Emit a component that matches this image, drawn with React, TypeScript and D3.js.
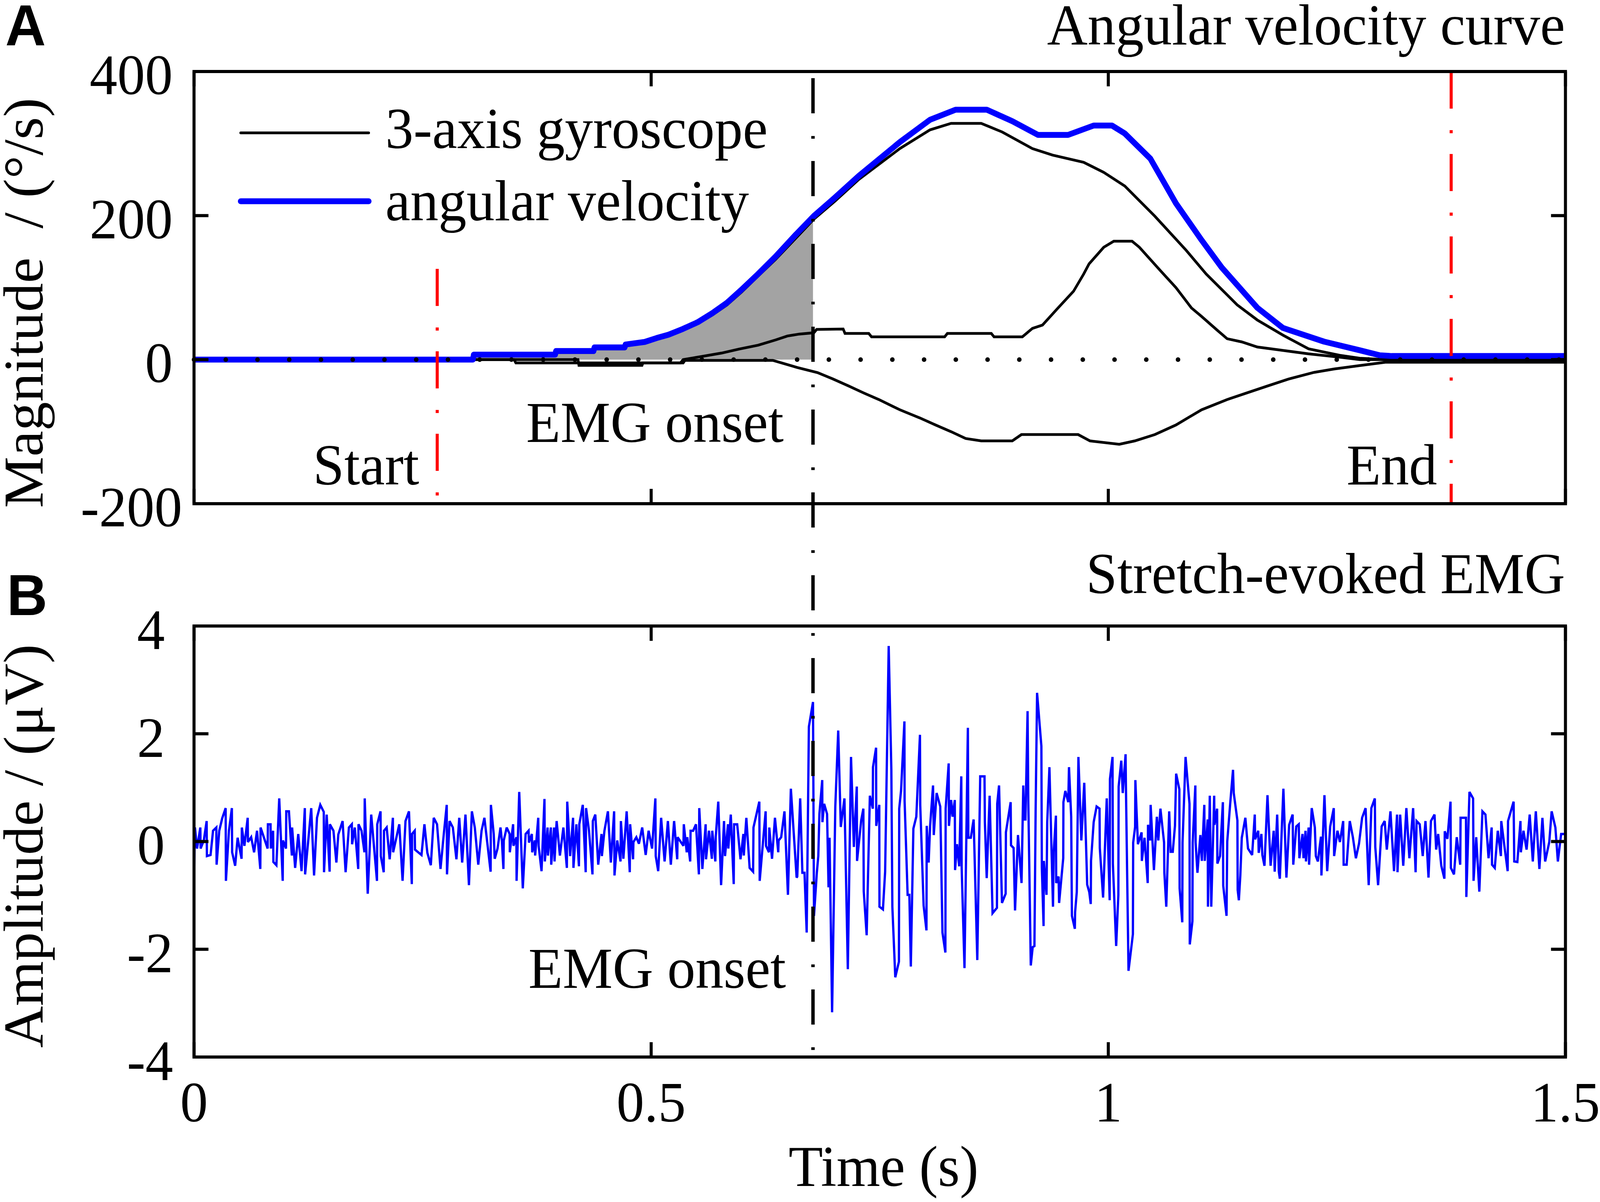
import React from 'react';
import * as d3 from 'd3';

const W = 4214;
const H = 3076;

// ---------- axes / annotations ----------
const xTicks = [0, 0.5, 1, 1.5];
const xTickLabels = ['0', '0.5', '1', '1.5'];
const yTicksA = [400, 200, 0, -200];
const yTicksB = [4, 2, 0, -2, -4];
const T_START = 0.266;
const T_ONSET = 0.677;
const T_END = 1.375;

// ---------- panel A: angular velocity (°/s), [time s, value] ----------
const angularVelocity: [number, number][] = [
  [0, 0], [0.305, 0], [0.306, 7], [0.395, 7], [0.396, 12], [0.437, 12], [0.438, 17], [0.471, 17],
  [0.472, 21], [0.493, 24.6], [0.506, 30], [0.519, 34.6], [0.535, 42.8], [0.551, 52], [0.567, 64.6],
  [0.583, 79], [0.599, 97.4], [0.617, 119], [0.636, 143], [0.657, 172], [0.678, 199.5], [0.701, 225],
  [0.727, 255], [0.772, 302], [0.805, 333], [0.833, 347], [0.867, 347], [0.895, 331], [0.923, 312],
  [0.956, 312], [0.984, 325], [1.004, 325], [1.018, 314], [1.046, 279], [1.074, 217], [1.102, 166],
  [1.124, 128], [1.163, 72], [1.191, 44], [1.236, 25], [1.275, 13], [1.297, 6], [1.31, 5], [1.5, 5],
];

const gyroAxis1: [number, number][] = [
  [0, 0], [0.305, 0], [0.306, 6], [0.395, 6], [0.396, 10], [0.437, 10], [0.438, 15], [0.471, 15],
  [0.472, 19], [0.493, 23], [0.506, 28], [0.519, 33], [0.535, 41], [0.551, 50], [0.567, 62],
  [0.583, 76], [0.599, 94], [0.617, 116], [0.636, 139], [0.657, 167], [0.678, 195], [0.701, 220],
  [0.727, 250], [0.772, 293], [0.805, 319], [0.828, 328], [0.861, 328], [0.884, 316], [0.917, 293],
  [0.939, 284], [0.973, 274], [0.995, 260], [1.018, 241], [1.051, 199], [1.085, 152], [1.107, 119],
  [1.141, 76], [1.163, 55], [1.191, 34], [1.219, 15], [1.253, 6], [1.275, 2], [1.303, 0], [1.5, 0],
];

const gyroAxis2: [number, number][] = [
  [0, 0], [0.42, 0], [0.421, -8], [0.49, -8], [0.491, -4.6], [0.532, -4.6], [0.535, 0], [0.556, 4.5],
  [0.577, 9.1], [0.596, 14.6], [0.617, 20], [0.636, 27.3], [0.649, 32.8], [0.662, 35.5], [0.678, 37.3],
  [0.681, 42], [0.71, 42.5], [0.712, 36.4], [0.738, 36.4], [0.741, 31.7], [0.821, 31.7], [0.824, 36.4],
  [0.872, 36.4], [0.875, 31.7], [0.906, 31.7], [0.917, 43.4], [0.928, 48], [0.945, 71.7], [0.962, 95],
  [0.973, 118.7], [0.979, 133], [0.995, 156], [1.006, 164.4], [1.026, 164.4], [1.034, 156],
  [1.057, 123.5], [1.074, 100], [1.091, 71.7], [1.102, 60], [1.119, 41], [1.13, 29], [1.146, 24.6],
  [1.163, 17.5], [1.191, 12.8], [1.219, 8], [1.253, 3.4], [1.275, 0], [1.5, 0],
];

const gyroAxis3: [number, number][] = [
  [0, 0], [0.35, 0], [0.352, -4.6], [0.535, -4.6], [0.537, -1], [0.633, -1], [0.644, -5], [0.66, -11],
  [0.682, -18], [0.699, -27], [0.716, -36.6], [0.732, -46], [0.749, -55.4], [0.772, -69.6], [0.794, -81],
  [0.811, -90.7], [0.828, -100], [0.844, -109.5], [0.861, -112.8], [0.895, -112.8], [0.905, -104],
  [0.967, -104], [0.98, -112.8], [1.012, -117.5], [1.029, -112.8], [1.051, -104], [1.074, -90.7],
  [1.102, -69.6], [1.13, -55.4], [1.152, -46], [1.174, -36.6], [1.197, -27], [1.225, -17.7],
  [1.247, -13], [1.275, -8.2], [1.303, -3.6], [1.5, -3.6],
];

// ---------- panel B: stretch-evoked EMG, [time ms, amplitude µV] ----------
const emgSamples: [number, number][] = [
  [0, -0.61], [1, 0.26], [3.3, -0.13], [6.9, 0.26], [7.2, -0.13], [10.7, 0.02], [13.8, 0.38], [14.1, -0.27],
  [18.1, -0.25], [20.8, 0.2], [24.4, 0.26], [24.7, -0.43], [27.6, 0.2], [30.8, 0.43], [34.6, 0.62], [34.9, -0.73],
  [38.2, 0.2], [41.4, 0.62], [41.7, -0.2], [45, -0.45], [47.7, 0.07], [52, -0.32], [52.3, 0.26], [55.1, -0.08],
  [58.7, 0.44], [59, -0.01], [62.5, 0.08], [65.7, -0.2], [68.9, 0.2], [72.5, -0.51], [72.8, 0.26], [80.5, -0.13],
  [80.8, 0.32], [83.7, 0.32], [84, -0.13], [86.5, 0.2], [86.8, -0.38], [90.1, -0.44], [93.2, 0.8], [97, -0.73],
  [97.3, 0.02], [100.6, -0.13], [100.9, 0.56], [103.8, 0.56], [107, -0.26], [107.3, 0.26], [110.6, -0.49],
  [114, 0.14], [117.6, -0.55], [121.2, 0.62], [121.5, -0.61], [128.2, 0.62], [131.3, -0.63], [134.5, 0.44],
  [138.1, 0.68], [141.9, 0.55], [142.2, -0.57], [145.1, 0.5], [148.3, -0.56], [148.6, 0.32], [152.5, 0.2],
  [155.7, -0.39], [157.8, 0.13], [162.5, 0.38], [165.8, -0.57], [169.4, 0.26], [172.6, 0.32], [172.9, -0.05],
  [175.8, 0.26], [179.6, -0.51], [179.9, 0.32], [183.2, 0.2], [186.4, -0.2], [186.7, 0.8], [190, -0.97],
  [193.8, 0.5], [200.1, -0.73], [200.4, 0.32], [204, 0.56], [204.3, -0.27], [207.5, -0.57], [207.8, 0.2],
  [210.7, 0.26], [214, -0.33], [217.5, 0.44], [217.8, -0.2], [224.5, 0.32], [228.1, -0.73], [231.3, 0.38],
  [235.1, 0.56], [238.2, -0.79], [238.5, 0.14], [241.4, 0.2], [241.7, -0.15], [248.8, -0.25], [252, 0.32],
  [255.2, -0.21], [259, -0.44], [262.2, 0.44], [265.8, 0.32], [269.6, -0.51], [273.2, 0.14], [276.4, 0.68],
  [276.7, -0.61], [279.5, 0.38], [283.1, 0.26], [287, -0.33], [290.1, 0.44], [293.3, -0.39], [296.9, 0.5],
  [300.7, -0.81], [303.9, 0.56], [307.1, 0.26], [310.9, -0.43], [314.5, 0.2], [317.6, 0.44], [324.4, -0.56],
  [324.7, 0.68],
  [327.8, 0.14], [328.9, -0.32], [332, -0.13], [335.2, 0.26], [336.7, 0.02], [338.4, -0.51], [338.8, 0.02],
  [342, 0.26], [345.2, 0.14], [345.4, -0.2], [349, 0.32], [349.4, -0.08], [352.6, 0.08], [352.8, -0.73],
  [355.7, 0.92], [359.6, -0.87], [362.7, 0.14], [365.9, 0.2], [366.3, -0.02], [369.5, 0.14], [369.9, -0.2],
  [372.7, 0.02], [373.1, -0.26], [376.5, 0.44], [376.9, -0.08], [380.1, -0.55], [383.3, 0.79], [383.7, -0.37],
  [386.7, 0.26], [387.1, -0.26], [390.3, 0.26], [390.7, -0.43], [393.8, 0.26], [394.3, -0.37], [396.6, 0.38],
  [400.2, -0.26], [404, 0.26], [407.8, -0.49], [408.2, 0.74], [411.4, -0.27], [414.6, 0.44], [415, -0.49],
  [418.2, 0.32], [421, -0.46], [421.4, 0.32], [425.2, 0.68], [428.4, -0.57], [428.8, 0.62], [432, 0.2],
  [435.8, -0.61], [436.2, 0.38], [438.9, 0.5], [442.1, -0.43], [445.7, 0.14], [446.1, -0.27], [448.9, 0.2],
  [452.7, 0.56], [455.9, -0.39], [459.5, 0.56], [459.9, -0.63], [462.9, 0.02], [466.5, -0.37], [466.9, 0.38],
  [469.6, -0.32], [473.2, 0.56], [476.6, -0.57], [477, 0.32], [480.2, -0.33], [480.6, -0.01], [483.8, 0.08],
  [486.6, -0.04], [490.2, 0.26], [494, -0.25], [497.2, 0.2], [501, -0.13], [504.6, 0.8], [505, -0.27],
  [507.7, -0.55], [510.9, 0.44], [514.7, -0.37], [518.3, 0.38], [521.5, -0.43], [525.1, 0.38], [528.5, -0.33],
  [528.9, 0.08], [535.3, -0.08], [535.7, 0.32], [538.9, -0.2], [539.5, 0.08], [542.7, -0.37], [543.1, 0.2],
  [545.9, 0.2], [549, 0.32], [552.2, -0.61], [552.6, 0.62], [556, -0.51], [559.6, 0.32], [560, -0.33],
  [563.2, 0.2], [566.4, -0.32], [566.8, 0.2], [570.2, -0.37], [570.6, 0.08], [573.4, 0.74], [576.5, -0.81],
  [579.7, 0.38], [580.8, -0.27], [584, 0.32], [584.4, -0.13], [587.1, 0.5], [590.3, -0.79], [590.7, 0.32],
  [594.1, 0.32], [597.7, -0.33], [600.9, 0.14], [601.3, -0.26], [604.1, 0.44], [607.7, -0.49], [611.5, -0.56],
  [611.9, 0.26], [618.3, 0.74], [618.7, -0.73], [625.2, 0.56], [625.6, -0.08], [628.8, -0.2], [629.2, 0.26],
  [632.2, -0.32], [635.4, 0.44], [639, -0.2], [639.4, 0.02], [642.2, 0.08], [645.8, 0.56], [649.6, -0.99],
  [652.8, 0.98], [659.1, -0.67],
  [659.8, -0.65], [663, 0.8], [665.4, -0.58], [667.7, -0.58], [670.1, -1.69], [672.5, 2.13], [677, 2.59],
  [678.1, -1.38], [681.2, -0.58], [682.8, -0.27], [684, 0.51], [687.1, 1.14], [687.3, 0.36], [689.2, 0.7],
  [692.4, 0.51], [694, -0.85], [695.1, 0.07], [697.9, -3.17], [701.4, 0.65], [704.6, 2.06], [707.4, 0.27],
  [711.4, 0.8], [715.1, -2.37], [718.6, 1.57], [721.7, -0.1], [724.9, 1.02], [725.2, -0.36], [729.7, 0.39],
  [732.1, 0.61], [732.5, -0.92], [735.7, -1.74], [739.2, 0.85], [742.4, 0.61], [742.6, 1.38], [746, 1.74],
  [746.2, 0.29], [749.5, 0.68], [749.7, -1.21], [753.5, -1.26], [755.9, -0.56], [759.8, 3.63], [762.7, 1.33],
  [763.8, -1.21], [767, -2.52], [771, -2.23], [771.3, 0.61], [773.3, 0.94], [777, 2.23], [777.2, 0.75],
  [780.5, -0.99], [782.4, -0.99], [784, -2.32], [786.8, 0.24], [790, 0.46], [794, 1.98], [794.3, 0.68],
  [798, -1.19], [801.1, -1.65], [801.4, 0.29], [803.5, -0.39], [805.1, 0.29], [808.3, 1.04], [809.1, 0.12],
  [812.2, 0.9], [816.2, 0.65], [818.6, -1.69], [821.8, -2.06], [822.1, 0.61], [825.4, 1.45], [825.7, 0.29],
  [828.1, 0.77], [829.7, 0.46], [832.1, 0.77], [832.4, -0.53], [834.5, -0.05], [836.9, -0.46], [839.2, 1.21],
  [839.6, -0.48], [842.7, -2.35], [846.4, 2.11], [846.9, 0.07], [849.6, 0.07], [852.7, 0.41], [856.7, -2.2],
  [859.9, 1.21], [864.6, 1.21], [865, 0.36], [867, -0.68], [870.2, 0.85], [873.4, -1.33], [878.2, -1.23],
  [878.5, 0.7], [880.5, 1.04], [883.7, -1.14], [887.7, -0.97], [888, 0.17], [893.2, 0.73], [893.6, -0.07],
  [896.4, -0.12], [898, -1.28], [901.2, 0.12], [905.1, -0.77], [907, 1.04], [908, 0.41], [909.4, 0.41],
  [911.7, 2.42], [912.5, 0.75], [915.2, -2.3], [917.3, -1.96], [919.2, -1.94], [920.5, 0.56], [922.1, 2.76],
  [926.8, 1.77], [927.3, -0.48], [929.2, -1.57], [929.5, -0.36], [932.4, -0.99], [933.2, 0.36], [935.6, 1.38],
  [937.2, 0.31], [939.5, -1.21], [940.3, -0.19], [942.7, 0.48], [943, -0.77], [945.6, -0.65], [946.2, -1.14],
  [950.7, -0.31], [950.9, 0.73], [953, 0.94], [956.2, 0.73], [957, 1.38], [959.4, 0.46], [960.2, -1.38],
  [963.4, -1.62], [963.7, -1.31], [965.5, -0.94], [967.3, 1.57], [970.5, 0.02], [973.7, 1.09], [976.9, -0.8],
  [979.2, -0.94], [980.8, -1.16], [981.1, -0.36], [984, 0.36], [987.2, 0.65], [990.4, 0.61], [990.7, -0.12],
  [994.3, -1.04], [998.3, 0.8], [1001.5, -1.09], [1001.8, 1.16], [1004.6, 1.57], [1005, -0.41], [1008.6, -1.94],
  [1011, -0.99], [1011.3, 1.02], [1014.2, 1.5], [1015.8, 0.9], [1018.9, 1.62], [1019.3, 0.99], [1022.1, -2.4],
  [1026.9, -1.72], [1027.2, -0.02], [1029.3, 0.27], [1029.6, 1.14], [1030.8, 0.61], [1032.4, -0.05],
  [1036.4, 0.17], [1036.7, -0.36], [1039.6, 0.07], [1043.1, -0.77], [1043.4, 0.31], [1045.9, 0.02],
  [1046.3, 0.68], [1049.9, -0.53], [1053.1, 0.46], [1054.7, 0.02], [1057, 0.61], [1061, -0.02], [1061.3, -0.58],
  [1063.4, -1.21], [1066.6, 0.56], [1068.2, -0.19], [1070.5, -0.19], [1072.9, 0.29], [1074.2, 1.26],
  [1077.7, 0.97], [1078, -0.87], [1080.9, -1.5], [1081.2, -0.02], [1084.5, 1.57], [1088.8, 0.7], [1089.1, -1.91],
  [1092, -1.48], [1092.3, -0.02], [1095.2, 1.04], [1095.5, -0.02], [1097.5, -0.58], [1100.7, 0.12],
  [1102.3, -0.36], [1105, 0.68], [1105.5, -0.36], [1108.7, 0.41], [1109, -1.21], [1111, 0.85], [1112.6, -1.21],
  [1115.8, 0.85], [1116.1, 0.31], [1119, 0.61], [1119.3, -0.41], [1122.2, -0.27], [1125.3, 0.73],
  [1125.7, -0.82], [1129.3, -1.38], [1130.1, 0], [1133.3, 0.7], [1136.4, 1.33], [1137.2, 0.9], [1141.2, 0.39],
  [1141.5, -0.9], [1142.8, -1.09], [1144.4, -0.63], [1146, 0.07], [1149.9, 0.44],
  [1152.8, -0.13], [1157.3, -0.25], [1160.2, 0.5], [1160.6, 0.04], [1164, 0.2], [1164.5, -0.21],
  [1167.4, 0.14], [1168.5, -0.25], [1170.8, -0.45], [1174.1, 0.86], [1177.5, -0.45], [1180.9, 0.2],
  [1182, -0.56], [1184.7, 0.5], [1186.5, -0.56], [1187.6, -0.69], [1191.5, 0.98], [1194.8, -0.67],
  [1197.8, 0.31], [1201.6, 0.5], [1202.3, -0.43], [1205.6, 0.28], [1208.3, 0.32], [1209, -0.31],
  [1212.4, 0.14], [1213.5, -0.31], [1215.7, 0.2], [1216.2, -0.37], [1219.1, 0.26], [1219.6, -0.43],
  [1222.5, 0.62], [1225.9, 0.26], [1227, -0.27], [1229.2, -0.37], [1232.6, 0.09], [1233.1, -0.63],
  [1236.4, 0.86], [1239.4, -0.55], [1242.7, 0.28], [1246.6, 0.62], [1247, -0.27], [1250.6, 0.2],
  [1253.3, -0.01], [1256.9, 0.38], [1257.4, -0.43], [1260.7, -0.43], [1264.1, 0.38], [1267.5, 0.08],
  [1270.8, -0.31], [1274.2, -0.04], [1277.6, 0.44], [1281.4, 0.62], [1284.8, -0.81], [1287.7, 0.62],
  [1291.5, 0.8], [1292, -0.1], [1295.1, -0.81], [1299, 0.28], [1302.3, 0.38], [1304.6, -0.15], [1308.6, 0.56],
  [1312.5, -0.55], [1315.8, 0.5], [1316.3, -0.57], [1319.2, 0.5], [1322.6, -0.45], [1326, 0.62],
  [1329.3, -0.31], [1333.4, 0.62], [1336.1, -0.57], [1337.2, 0.38], [1340.6, 0.32], [1343.9, -0.27],
  [1346.9, 0.38], [1350.2, -0.67], [1352.9, 0.38], [1356.8, 0.5], [1358.6, -0.15], [1360.8, 0.14],
  [1364.2, -0.45], [1367.6, -0.69], [1368, 0.19], [1370.9, 0.05], [1374.3, 0.74], [1374.7, -0.49],
  [1378.1, -0.61], [1381.1, 0.08], [1384.9, -0.43], [1385.3, 0.44], [1391.2, 0.44], [1391.6, -1.03],
  [1395, 0.92], [1399, 0.8], [1399.5, -0.73], [1402.4, 0.08], [1405.8, -0.93], [1409.2, 0.56], [1412.5, 0.5],
  [1415.9, -0.31], [1419.3, 0.26], [1419.7, -0.43], [1422.7, -0.49], [1426, 0.2], [1429.4, -0.27],
  [1429.8, 0.38], [1433.2, -0.08], [1436.8, -0.55], [1437.2, 0.38], [1443.3, 0.74], [1444, -0.37],
  [1447.4, -0.38], [1450.8, 0.38], [1451.2, -0.2], [1454.1, 0.2], [1457.5, -0.15], [1460.9, 0.5],
  [1464.3, -0.37], [1467.6, 0.56], [1471.5, -0.51], [1474.8, 0.44], [1477.8, -0.37], [1482.3, -0.01],
  [1484.9, 0.56], [1489, 0.26], [1491.7, -0.37], [1495.3, 0.14], [1499.1, 0.14],
];

const SERIF = "'Liberation Serif', 'Times New Roman', Times, serif";
const SANS = "'Liberation Sans', Arial, Helvetica, sans-serif";
const FS = 148;
const TICK_FS = 146;

function valueAt(series: [number, number][], t: number): number {
  for (let i = 1; i < series.length; i++) {
    const [t0, v0] = series[i - 1];
    const [t1, v1] = series[i];
    if (t >= t0 && t <= t1) {
      return t1 === t0 ? v1 : v0 + ((v1 - v0) * (t - t0)) / (t1 - t0);
    }
  }
  return series[series.length - 1][1];
}

export default function App() {
  const X0 = 511, X1 = 4123;
  const A_TOP = 183, A_BOT = 1289;
  const B_TOP = 1602, B_BOT = 2705;
  const TICK = 38;

  const x = d3.scaleLinear().domain([0, 1.5]).range([X0, X1]);
  const yA = d3.scaleLinear().domain([-200, 400]).range([A_BOT, A_TOP]);
  const yB = d3.scaleLinear().domain([-4, 4]).range([B_BOT, B_TOP]);

  const lineA = d3.line<[number, number]>().x((d) => x(d[0])).y((d) => yA(d[1]));
  const lineB = d3.line<[number, number]>().x((d) => x(d[0] / 1000)).y((d) => yB(d[1]));

  const shaded: [number, number][] = [
    [T_START, valueAt(angularVelocity, T_START)],
    ...angularVelocity.filter((p) => p[0] > T_START && p[0] < T_ONSET),
    [T_ONSET, valueAt(angularVelocity, T_ONSET)],
  ];
  const area = d3
    .area<[number, number]>()
    .x((d) => x(d[0]))
    .y0(yA(0))
    .y1((d) => yA(d[1]));

  const boxStroke = 8;

  const renderTicks = (top: number, bot: number, yScale: d3.ScaleLinear<number, number>, yTicks: number[]) => (
    <g stroke="#000" strokeWidth={8}>
      {xTicks.map((t) => (
        <g key={'xt' + t}>
          <line x1={x(t)} x2={x(t)} y1={bot} y2={bot - TICK} />
          <line x1={x(t)} x2={x(t)} y1={top} y2={top + TICK} />
        </g>
      ))}
      {yTicks.map((v) => (
        <g key={'yt' + v}>
          <line x1={X0} x2={X0 + TICK} y1={yScale(v)} y2={yScale(v)} />
          <line x1={X1} x2={X1 - TICK} y1={yScale(v)} y2={yScale(v)} />
        </g>
      ))}
    </g>
  );

  return (
    <svg
      viewBox={`0 0 ${W} ${H}`}
      preserveAspectRatio="none"
      style={{ position: 'fixed', left: 0, top: 0, width: '100vw', height: '100vh', background: '#fff', display: 'block' }}
    >
      <rect x={0} y={0} width={W} height={H} fill="#fff" />

      {/* ---------- Panel A ---------- */}
      <path d={area(shaded) || ''} fill="#a3a3a3" stroke="none" />
      {[gyroAxis1, gyroAxis2, gyroAxis3].map((s, i) => (
        <path key={i} d={lineA(s) || ''} fill="none" stroke="#000" strokeWidth={7} strokeLinejoin="miter" />
      ))}
      <path d={lineA(angularVelocity) || ''} fill="none" stroke="#0000ff" strokeWidth={15} strokeLinejoin="round" />
      <line
        x1={X0}
        x2={X1}
        y1={yA(0)}
        y2={yA(0)}
        stroke="#000"
        strokeWidth={12}
        strokeLinecap="round"
        strokeDasharray="0 83.6"
      />

      {/* red markers */}
      <line
        x1={x(T_START)}
        x2={x(T_START)}
        y1={yA(126)}
        y2={A_BOT}
        stroke="#ff0000"
        strokeWidth={8}
        strokeDasharray="95 55 8 53"
      />
      <line
        x1={x(T_END)}
        x2={x(T_END)}
        y1={A_TOP}
        y2={A_BOT}
        stroke="#ff0000"
        strokeWidth={8}
        strokeDasharray="95 55 8 53"
      />

      {/* ---------- Panel B ---------- */}
      <path d={lineB(emgSamples) || ''} fill="none" stroke="#0000ff" strokeWidth={6} strokeLinejoin="miter" strokeMiterlimit={3} />

      {/* onset line across both panels */}
      <line
        x1={x(T_ONSET)}
        x2={x(T_ONSET)}
        y1={A_TOP}
        y2={B_BOT}
        stroke="#000"
        strokeWidth={9}
        strokeDasharray="90 58 7 57"
        strokeDashoffset={195}
      />

      {/* boxes */}
      <rect x={X0} y={A_TOP} width={X1 - X0} height={A_BOT - A_TOP} fill="none" stroke="#000" strokeWidth={boxStroke} />
      <rect x={X0} y={B_TOP} width={X1 - X0} height={B_BOT - B_TOP} fill="none" stroke="#000" strokeWidth={boxStroke} />
      {renderTicks(A_TOP, A_BOT, yA, yTicksA)}
      {renderTicks(B_TOP, B_BOT, yB, yTicksB)}

      {/* tick labels */}
      <g fontFamily={SERIF} fontSize={TICK_FS} fill="#000">
        {yTicksA.map((v) => (
          <text key={'la' + v} x={v < 0 ? 480 : 455} y={yA(v) + 58} textAnchor="end">
            {String(v)}
          </text>
        ))}
        {yTicksB.map((v) => (
          <text key={'lb' + v} x={v < 0 ? 456 : 434} y={yB(v) + 59} textAnchor="end">
            {String(v)}
          </text>
        ))}
        {xTicks.map((t, i) => (
          <text key={'lx' + t} x={x(t)} y={2870} textAnchor="middle">
            {xTickLabels[i]}
          </text>
        ))}
      </g>

      {/* texts */}
      <g fontFamily={SERIF} fontSize={FS} fill="#000" style={{ whiteSpace: 'pre' }}>
        <text x={4122} y={114} textAnchor="end">Angular velocity curve</text>
        <text x={4122} y={1518} textAnchor="end">Stretch-evoked EMG</text>
        <text x={1104} y={1240} textAnchor="end">Start</text>
        <text x={3785} y={1240} textAnchor="end">End</text>
        <text x={2064} y={1131} textAnchor="end">EMG onset</text>
        <text x={2070} y={2528} textAnchor="end">EMG onset</text>
        <text x={2327} y={3035} textAnchor="middle">Time (s)</text>
        <text transform="translate(112,775) rotate(-90)" textAnchor="middle" xmlSpace="preserve">
          {'Magnitude  / (°/s)'}
        </text>
        <text transform="translate(112,2165) rotate(-90)" textAnchor="middle">Amplitude / (μV)</text>
        <text x={1015} y={379}>3-axis gyroscope</text>
        <text x={1015} y={564}>angular velocity</text>
      </g>

      {/* legend lines */}
      <line x1={634} x2={971} y1={340} y2={340} stroke="#000" strokeWidth={7} strokeLinecap="round" />
      <line x1={634} x2={971} y1={515} y2={515} stroke="#0000ff" strokeWidth={15} strokeLinecap="round" />

      {/* panel letters */}
      <g fontFamily={SANS} fontWeight="bold" fontSize={148} fill="#000">
        <text x={14} y={116}>A</text>
        <text x={18} y={1574}>B</text>
      </g>
    </svg>
  );
}
